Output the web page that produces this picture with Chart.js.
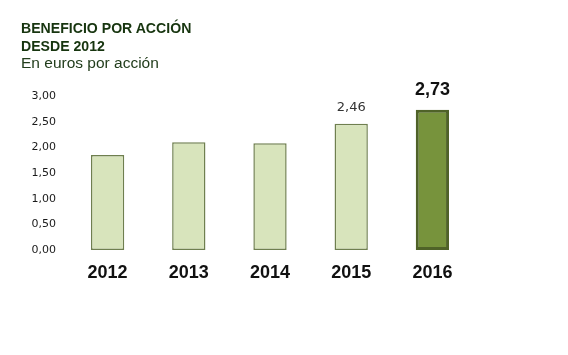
<!DOCTYPE html>
<html><head><meta charset="utf-8">
<script src="https://cdn.jsdelivr.net/npm/chart.js@4"></script>
<style>
html,body{margin:0;padding:0;background:#fff;}
#wrap{position:relative;width:568px;height:355px;overflow:hidden;}
#c{position:absolute;left:0;top:0;}
.t{position:absolute;left:21px;white-space:nowrap;color:#17350f;transform-origin:0 0;}
.t1{top:19px;font:bold 15.5px "Liberation Sans",sans-serif;transform:scaleX(0.91);}
.t2{top:37px;font:bold 15.5px "Liberation Sans",sans-serif;transform:scaleX(0.91);}
.t3{top:54px;font:15.5px "Liberation Sans",sans-serif;color:#223d1c;}
</style></head>
<body><div id="wrap">
<canvas id="c" width="568" height="355"></canvas>
<div class="t t1">BENEFICIO POR ACCIÓN</div>
<div class="t t2">DESDE 2012</div>
<div class="t t3">En euros por acción</div>
</div>
<script>
const categories = ['2012','2013','2014','2015','2016'];
const values = [1.85, 2.10, 2.08, 2.46, 2.73];
const valueLabels = ['', '', '', '2,46', '2,73'];
const highlightIndex = 4;

const fills = categories.map((c,i)=> i===highlightIndex ? '#77933c' : '#d8e4bc');
const borders = categories.map((c,i)=> i===highlightIndex ? '#4f6228' : '#6f7f4f');
const borderW = categories.map((c,i)=> i===highlightIndex ? 3 : 1.5);

const valuePlugin = {
  id:'valueLabels',
  afterDatasetsDraw(chart){
    const ctx = chart.ctx;
    const meta = chart.getDatasetMeta(0);
    ctx.save();
    ctx.textAlign='center';
    ctx.textBaseline='alphabetic';
    meta.data.forEach((bar,i)=>{
      const txt = valueLabels[i];
      if(!txt) return;
      if(i===highlightIndex){
        ctx.font='bold 18px "Liberation Sans", sans-serif';
        ctx.fillStyle='#111';
        ctx.fillText(txt, bar.x, bar.y-15);
      } else {
        ctx.font='13px "DejaVu Sans", sans-serif';
        ctx.fillStyle='#333';
        ctx.fillText(txt, bar.x, bar.y-13);
      }
    });
    ctx.restore();
  }
};

new Chart(document.getElementById('c'), {
  type:'bar',
  data:{labels:categories,datasets:[{data:values,backgroundColor:fills,borderColor:borders,borderWidth:borderW,borderSkipped:false,barPercentage:0.41,categoryPercentage:1.0}]},
  options:{
    responsive:false,animation:false,
    layout:{padding:{left:0,right:95,top:96,bottom:0}},
    plugins:{legend:{display:false},tooltip:{enabled:false},title:{display:false}},
    scales:{
      x:{grid:{display:false,drawTicks:false},border:{display:false},
         ticks:{padding:12,color:'#111',font:{family:'"Liberation Sans", sans-serif',size:18,weight:'bold'}},
         afterFit(a){a.height=105;}},
      y:{min:0,max:3,grid:{display:false,drawTicks:false},border:{display:false},
         ticks:{stepSize:0.5,padding:11,color:'#1a1a1a',font:{family:'"DejaVu Sans", sans-serif',size:11},
           callback:(v)=>Number(v).toFixed(2).replace('.',',')},
         afterFit(a){a.width=67;}}
    }
  },
  plugins:[valuePlugin]
});
</script>
</body></html>
